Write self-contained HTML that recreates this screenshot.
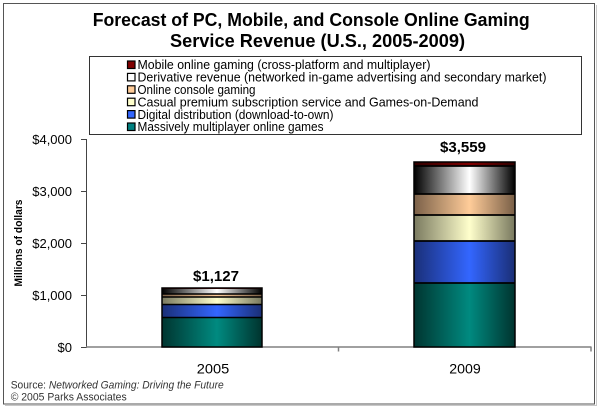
<!DOCTYPE html>
<html>
<head>
<meta charset="utf-8">
<style>
  html, body { margin:0; padding:0; background:#fff; }
  svg { display:block; }
  text { font-family: "Liberation Sans", Arial, sans-serif; }
</style>
</head>
<body>
<svg width="600" height="410" viewBox="0 0 600 410" xmlns="http://www.w3.org/2000/svg">
  <defs>
    <linearGradient id="gTeal" x1="0" y1="0" x2="1" y2="0">
      <stop offset="0" stop-color="#003530"/>
      <stop offset="0.55" stop-color="#008a80"/>
      <stop offset="1" stop-color="#00332e"/>
    </linearGradient>
    <linearGradient id="gBlue" x1="0" y1="0" x2="1" y2="0">
      <stop offset="0" stop-color="#1a2f78"/>
      <stop offset="0.55" stop-color="#3366ff"/>
      <stop offset="1" stop-color="#1a2e75"/>
    </linearGradient>
    <linearGradient id="gYellow" x1="0" y1="0" x2="1" y2="0">
      <stop offset="0" stop-color="#7a7a60"/>
      <stop offset="0.55" stop-color="#ffffcc"/>
      <stop offset="1" stop-color="#78785e"/>
    </linearGradient>
    <linearGradient id="gOrange" x1="0" y1="0" x2="1" y2="0">
      <stop offset="0" stop-color="#7a6048"/>
      <stop offset="0.55" stop-color="#ffcc99"/>
      <stop offset="1" stop-color="#785e46"/>
    </linearGradient>
    <linearGradient id="gWhite" x1="0" y1="0" x2="1" y2="0">
      <stop offset="0" stop-color="#000000"/>
      <stop offset="0.55" stop-color="#ffffff"/>
      <stop offset="1" stop-color="#000000"/>
    </linearGradient>
    <linearGradient id="gRed" x1="0" y1="0" x2="1" y2="0">
      <stop offset="0" stop-color="#300000"/>
      <stop offset="0.55" stop-color="#800000"/>
      <stop offset="1" stop-color="#300000"/>
    </linearGradient>
  </defs>

  <!-- outer frame with shadow -->
  <line x1="5" y1="405.5" x2="597" y2="405.5" stroke="#c8c8c8" stroke-width="1"/>
  <line x1="596.5" y1="5" x2="596.5" y2="406" stroke="#c8c8c8" stroke-width="1"/>
  <rect x="3.5" y="3.5" width="591" height="400.5" fill="#fff" stroke="#555" stroke-width="1"/>

  <!-- title -->
  <text x="92.7" y="26" font-size="18" font-weight="bold" fill="#000" textLength="437" lengthAdjust="spacingAndGlyphs">Forecast of PC, Mobile, and Console Online Gaming</text>
  <text x="170" y="47" font-size="18" font-weight="bold" fill="#000" textLength="295" lengthAdjust="spacingAndGlyphs">Service Revenue (U.S., 2005-2009)</text>

  <!-- legend -->
  <rect x="89.5" y="56.5" width="492" height="78" fill="#fff" stroke="#333" stroke-width="1"/>
  <g stroke="#000" stroke-width="1.2">
    <rect x="127.5" y="61" width="7.5" height="7.5" fill="#800000"/>
    <rect x="127.5" y="73.4" width="7.5" height="7.5" fill="#ffffff"/>
    <rect x="127.5" y="85.8" width="7.5" height="7.5" fill="#ffcc99"/>
    <rect x="127.5" y="98.2" width="7.5" height="7.5" fill="#ffffcc"/>
    <rect x="127.5" y="110.6" width="7.5" height="7.5" fill="#3366ff"/>
    <rect x="127.5" y="123" width="7.5" height="7.5" fill="#008080"/>
  </g>
  <g font-size="13" fill="#000">
    <text x="137.5" y="69.2" textLength="293" lengthAdjust="spacingAndGlyphs">Mobile online gaming (cross-platform and multiplayer)</text>
    <text x="137.5" y="81.6" textLength="409" lengthAdjust="spacingAndGlyphs">Derivative revenue (networked in-game advertising and secondary market)</text>
    <text x="137.5" y="94" textLength="118" lengthAdjust="spacingAndGlyphs">Online console gaming</text>
    <text x="137.5" y="106.4" textLength="341" lengthAdjust="spacingAndGlyphs">Casual premium subscription service and Games-on-Demand</text>
    <text x="137.5" y="118.8" textLength="196" lengthAdjust="spacingAndGlyphs">Digital distribution (download-to-own)</text>
    <text x="137.5" y="131.2" textLength="186" lengthAdjust="spacingAndGlyphs">Massively multiplayer online games</text>
  </g>

  <!-- y axis -->
  <line x1="86.5" y1="139" x2="86.5" y2="348" stroke="#444" stroke-width="1"/>
  <g stroke="#444" stroke-width="1">
    <line x1="81" y1="139.5" x2="87" y2="139.5"/>
    <line x1="81" y1="191.5" x2="87" y2="191.5"/>
    <line x1="81" y1="243.5" x2="87" y2="243.5"/>
    <line x1="81" y1="295.5" x2="87" y2="295.5"/>
    <line x1="81" y1="347.5" x2="87" y2="347.5"/>
  </g>
  <g font-size="13" fill="#000" text-anchor="end">
    <text x="72" y="144">$4,000</text>
    <text x="72" y="196">$3,000</text>
    <text x="72" y="248">$2,000</text>
    <text x="72" y="300">$1,000</text>
    <text x="72" y="352">$0</text>
  </g>
  <text transform="translate(22,243) rotate(-90)" font-size="11" font-weight="bold" fill="#000" text-anchor="middle" textLength="87" lengthAdjust="spacingAndGlyphs">Millions of dollars</text>

  <!-- x axis -->
  <line x1="86" y1="347" x2="591.5" y2="347" stroke="#808080" stroke-width="1.5"/>
  <line x1="338.5" y1="347" x2="338.5" y2="351.5" stroke="#808080" stroke-width="1.5"/>
  <line x1="591" y1="347" x2="591" y2="351.5" stroke="#808080" stroke-width="1.5"/>

  <!-- 2005 bar -->
  <rect x="162" y="317.5" width="100" height="29.5" fill="url(#gTeal)"/>
  <rect x="162" y="304.5" width="100" height="13" fill="url(#gBlue)"/>
  <rect x="162" y="297" width="100" height="7.5" fill="url(#gYellow)"/>
  <rect x="162" y="294" width="100" height="3" fill="url(#gOrange)"/>
  <rect x="162" y="289" width="100" height="5" fill="url(#gWhite)"/>
  <rect x="162" y="288" width="100" height="1" fill="url(#gRed)"/>
  <g stroke="#000" stroke-width="1.6">
    <line x1="162" y1="317.5" x2="262" y2="317.5"/>
    <line x1="162" y1="304.5" x2="262" y2="304.5"/>
    <line x1="162" y1="297" x2="262" y2="297"/>
    <line x1="162" y1="294" x2="262" y2="294"/>
  </g>
  <rect x="162" y="288" width="100" height="59" fill="none" stroke="#000" stroke-width="1.5"/>

  <!-- 2009 bar -->
  <rect x="414" y="283" width="101" height="64" fill="url(#gTeal)"/>
  <rect x="414" y="241" width="101" height="42" fill="url(#gBlue)"/>
  <rect x="414" y="215" width="101" height="26" fill="url(#gYellow)"/>
  <rect x="414" y="194" width="101" height="21" fill="url(#gOrange)"/>
  <rect x="414" y="166" width="101" height="28" fill="url(#gWhite)"/>
  <rect x="414" y="162" width="101" height="4" fill="url(#gRed)"/>
  <g stroke="#000" stroke-width="1.8">
    <line x1="414" y1="283" x2="515" y2="283"/>
    <line x1="414" y1="241" x2="515" y2="241"/>
    <line x1="414" y1="215" x2="515" y2="215"/>
    <line x1="414" y1="194" x2="515" y2="194"/>
    <line x1="414" y1="166" x2="515" y2="166"/>
  </g>
  <rect x="414" y="162" width="101" height="185" fill="none" stroke="#000" stroke-width="1.5"/>

  <!-- value labels -->
  <text x="216" y="281" font-size="15" font-weight="bold" fill="#000" text-anchor="middle" textLength="46" lengthAdjust="spacingAndGlyphs">$1,127</text>
  <text x="463" y="152" font-size="15" font-weight="bold" fill="#000" text-anchor="middle" textLength="46" lengthAdjust="spacingAndGlyphs">$3,559</text>

  <!-- category labels -->
  <text x="213" y="373.5" font-size="14" fill="#000" text-anchor="middle" textLength="32.5" lengthAdjust="spacingAndGlyphs">2005</text>
  <text x="465" y="373.5" font-size="14" fill="#000" text-anchor="middle" textLength="31.5" lengthAdjust="spacingAndGlyphs">2009</text>

  <!-- source -->
  <text x="10.7" y="388.5" font-size="11" fill="#333" textLength="213" lengthAdjust="spacingAndGlyphs">Source: <tspan font-style="italic">Networked Gaming: Driving the Future</tspan></text>
  <text x="10.7" y="400.5" font-size="11" fill="#333" textLength="116" lengthAdjust="spacingAndGlyphs">© 2005 Parks Associates</text>
</svg>
</body>
</html>
